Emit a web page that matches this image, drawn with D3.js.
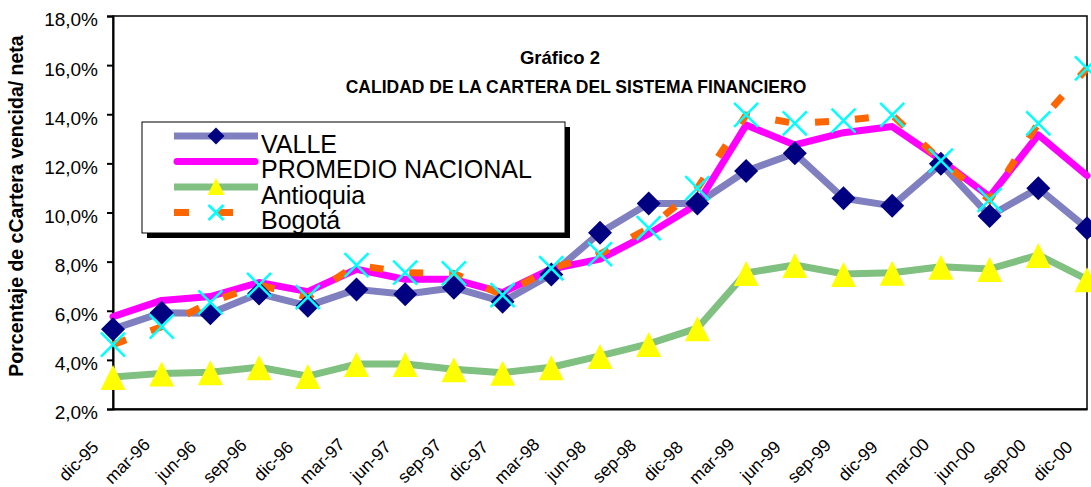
<!DOCTYPE html>
<html>
<head>
<meta charset="utf-8">
<script src="https://cdn.jsdelivr.net/npm/d3@7"></script>
<style>
    body { margin: 0; background: #fff; }
    svg { display: block; font-family: Arial, 'Liberation Sans', sans-serif; }
    .axis path, .axis line { stroke: #000; }
    .axis text { fill: #000; }
</style>
</head>
<body>
<div id="chart"></div>
<script>
// quarters on the x axis
const categories = ['dic-95', 'mar-96', 'jun-96', 'sep-96', 'dic-96', 'mar-97', 'jun-97', 'sep-97', 'dic-97',
    'mar-98', 'jun-98', 'sep-98', 'dic-98', 'mar-99', 'jun-99', 'sep-99', 'dic-99', 'mar-00', 'jun-00', 'sep-00', 'dic-00'];

// cartera vencida / neta, in %
const valle = [5.25, 5.92, 5.9, 6.7, 6.2, 6.87, 6.67, 6.94, 6.37, 7.48, 9.18, 10.37, 10.37, 11.69, 12.41, 10.58, 10.27, 11.98, 9.86, 10.99, 9.36];
const promedioNacional = [5.76, 6.42, 6.58, 7.15, 6.78, 7.69, 7.28, 7.28, 6.74, 7.7, 8.1, 9.13, 10.35, 13.56, 12.75, 13.25, 13.5, 12.14, 10.64, 13.16, 11.5];
const antioquia = [3.3, 3.45, 3.5, 3.7, 3.34, 3.83, 3.83, 3.62, 3.48, 3.7, 4.16, 4.65, 5.29, 7.54, 7.86, 7.5, 7.55, 7.79, 7.7, 8.27, 7.28];
const bogota = [4.62, 5.35, 6.34, 7.05, 6.55, 7.86, 7.55, 7.52, 6.64, 7.73, 8.31, 9.36, 10.99, 13.97, 13.63, 13.74, 13.97, 12.11, 10.51, 13.63, 15.87];

const yTicks = [2, 4, 6, 8, 10, 12, 14, 16, 18];

const seriesNames = ['VALLE', 'PROMEDIO NACIONAL', 'Antioquia', 'Bogotá'];

const FONT = "Arial, 'Liberation Sans', sans-serif";

class LineChart {
    constructor(_config) {
        this.config = {
            parentElement: _config.parentElement,
            containerWidth: _config.containerWidth || 1091,
            containerHeight: _config.containerHeight || 487,
            margin: _config.margin || { top: 16, right: 4, bottom: 78, left: 113 }
        };
        this.initVis();
    }

    initVis() {
        let vis = this;

        vis.width = vis.config.containerWidth - vis.config.margin.left - vis.config.margin.right;
        vis.height = vis.config.containerHeight - vis.config.margin.top - vis.config.margin.bottom;

        vis.svg = d3.select(vis.config.parentElement).append('svg')
            .attr('width', vis.config.containerWidth)
            .attr('height', vis.config.containerHeight);

        vis.xScale = d3.scalePoint()
            .domain(categories)
            .range([0, vis.width]);

        vis.yScale = d3.scaleLinear()
            .domain([2, 18])
            .range([vis.height, 0]);

        vis.yAxis = d3.axisLeft(vis.yScale)
            .tickValues(yTicks)
            .tickSize(6)
            .tickPadding(9)
            .tickFormat(d => d.toFixed(1).replace('.', ',') + '%');

        vis.xAxis = d3.axisBottom(vis.xScale)
            .tickSize(0);

        vis.chart = vis.svg.append('g')
            .attr('transform', `translate(${vis.config.margin.left},${vis.config.margin.top})`);

        // plot area frame
        vis.chart.append('rect')
            .attr('width', vis.width)
            .attr('height', vis.height)
            .attr('fill', 'none')
            .attr('stroke', '#000')
            .attr('stroke-width', 1.5);

        vis.xAxisG = vis.chart.append('g')
            .attr('class', 'axis x-axis')
            .attr('transform', `translate(0,${vis.height})`);

        vis.yAxisG = vis.chart.append('g')
            .attr('class', 'axis y-axis');

        vis.linesG = vis.chart.append('g');
        vis.markersG = vis.chart.append('g');
    }

    renderVis() {
        let vis = this;

        vis.yAxisG.call(vis.yAxis)
            .attr('font-family', FONT)
            .attr('font-size', 19)
            .call(g => g.selectAll('path, line').attr('stroke-width', 2))
            .call(g => g.selectAll('text').attr('dy', '0.52em'));

        // rotated quarter labels, centred below and left of each point
        vis.xAxisG.call(vis.xAxis)
            .attr('font-family', FONT)
            .attr('font-size', 17.5)
            .call(g => g.select('.domain').attr('stroke-width', 2))
            .call(g => g.selectAll('text')
                .attr('x', 0)
                .attr('y', 0)
                .attr('dy', '0.35em')
                .attr('text-anchor', 'middle')
                .attr('transform', 'translate(-35,52) rotate(-45)'));

        const line = d3.line()
            .x((d, i) => vis.xScale(categories[i]))
            .y(d => vis.yScale(d));

        // lines first, in series order
        vis.linesG.append('path').datum(valle)
            .attr('d', line).attr('fill', 'none')
            .attr('stroke', '#8080C0').attr('stroke-width', 7).attr('stroke-linejoin', 'round');
        vis.linesG.append('path').datum(promedioNacional)
            .attr('d', line).attr('fill', 'none')
            .attr('stroke', '#FF00FF').attr('stroke-width', 7).attr('stroke-linejoin', 'round')
            .attr('stroke-linecap', 'round');
        vis.linesG.append('path').datum(antioquia)
            .attr('d', line).attr('fill', 'none')
            .attr('stroke', '#80C080').attr('stroke-width', 7).attr('stroke-linejoin', 'round');
        vis.linesG.append('path').datum(bogota)
            .attr('d', line).attr('fill', 'none')
            .attr('stroke', '#FF6600').attr('stroke-width', 7)
            .attr('stroke-dasharray', '14,26');

        // markers on top
        vis.markersG.selectAll('.diamond')
            .data(valle)
            .join('path')
            .attr('class', 'diamond')
            .attr('d', diamond(12))
            .attr('fill', '#000080')
            .attr('transform', (d, i) => `translate(${vis.xScale(categories[i])},${vis.yScale(d)})`);

        vis.markersG.selectAll('.triangle')
            .data(antioquia)
            .join('path')
            .attr('class', 'triangle')
            .attr('d', triangle(12.5, 12, 13))
            .attr('fill', '#FFFF00')
            .attr('transform', (d, i) => `translate(${vis.xScale(categories[i])},${vis.yScale(d)})`);

        vis.markersG.selectAll('.cross')
            .data(bogota)
            .join('path')
            .attr('class', 'cross')
            .attr('d', cross(12))
            .attr('fill', 'none')
            .attr('stroke', '#00FFFF')
            .attr('stroke-width', 2.5)
            .attr('transform', (d, i) => `translate(${vis.xScale(categories[i])},${vis.yScale(d)})`);

        // titles
        vis.svg.append('text')
            .attr('x', 560).attr('y', 63.5)
            .attr('text-anchor', 'middle')
            .style('font-weight', 'bold').style('font-size', '18.5px')
            .text('Gráfico 2');
        vis.svg.append('text')
            .attr('x', 576).attr('y', 93)
            .attr('text-anchor', 'middle')
            .style('font-weight', 'bold').style('font-size', '17.5px')
            .text('CALIDAD DE LA CARTERA DEL SISTEMA FINANCIERO');

        vis.svg.append('text')
            .attr('transform', 'translate(23,206) rotate(-90)')
            .attr('text-anchor', 'middle')
            .style('font-weight', 'bold').style('font-size', '19.5px')
            .text('Porcentaje de cCartera vencida/ neta');

        vis.renderLegend();
    }

    renderLegend() {
        let vis = this;
        const lg = vis.svg.append('g').attr('transform', 'translate(142,122)');

        lg.append('rect')
            .attr('x', 5).attr('y', 5)
            .attr('width', 423).attr('height', 111)
            .attr('fill', '#000');
        lg.append('rect')
            .attr('width', 423).attr('height', 111)
            .attr('fill', '#fff')
            .attr('stroke', '#000').attr('stroke-width', 1);

        const rows = lg.selectAll('.legend-row')
            .data(seriesNames)
            .join('g')
            .attr('class', 'legend-row')
            .attr('transform', (d, i) => `translate(0,${14 + i * 25.5})`);

        rows.append('text')
            .attr('x', 119)
            .attr('y', 16.5)
            .style('font-size', '25px')
            .text(d => d);

        // VALLE
        const r0 = rows.filter((d, i) => i === 0);
        r0.append('line').attr('x1', 32).attr('x2', 116)
            .attr('stroke', '#8080C0').attr('stroke-width', 7);
        r0.append('path').attr('d', diamond(8.5)).attr('transform', 'translate(74,0)').attr('fill', '#000080');

        // PROMEDIO NACIONAL
        rows.filter((d, i) => i === 1).append('line').attr('x1', 35).attr('x2', 113)
            .attr('stroke', '#FF00FF').attr('stroke-width', 7).attr('stroke-linecap', 'round');

        // Antioquia
        const r2 = rows.filter((d, i) => i === 2);
        r2.append('line').attr('x1', 32).attr('x2', 116)
            .attr('stroke', '#80C080').attr('stroke-width', 7);
        r2.append('path').attr('d', triangle(8.5, 9, 8)).attr('transform', 'translate(74,0)').attr('fill', '#FFFF00');

        // Bogotá
        const r3 = rows.filter((d, i) => i === 3);
        r3.append('line').attr('x1', 32).attr('x2', 116)
            .attr('stroke', '#FF6600').attr('stroke-width', 7).attr('stroke-dasharray', '15,29');
        r3.append('path').attr('d', cross(7.5)).attr('transform', 'translate(74,0)')
            .attr('fill', 'none').attr('stroke', '#00FFFF').attr('stroke-width', 2.5);
    }
}

function diamond(r) {
    return `M0,${-r}L${r},0L0,${r}L${-r},0Z`;
}

function triangle(hw, up, down) {
    return `M0,${-up}L${hw},${down}L${-hw},${down}Z`;
}

function cross(r) {
    return `M${-r},${-r}L${r},${r}M${r},${-r}L${-r},${r}`;
}

const chart = new LineChart({ parentElement: '#chart' });
chart.renderVis();
</script>
</body>
</html>
